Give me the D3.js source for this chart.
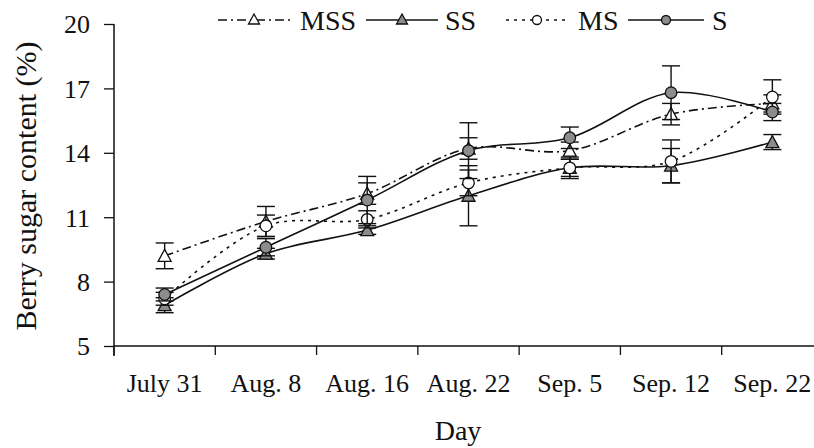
<!DOCTYPE html>
<html><head><meta charset="utf-8">
<script src="https://cdn.jsdelivr.net/npm/d3@7"></script>
<style>body{margin:0;background:#fff}svg{display:block}</style>
</head><body><svg id="c" width="814" height="448"></svg>
<script>
const categories = ["July 31","Aug. 8","Aug. 16","Aug. 22","Sep. 5","Sep. 12","Sep. 22"];
const yTicks = [5, 8, 11, 14, 17, 20];
const seriesNames = ["MSS","SS","MS","S"];
const mssValues = [9.2, 10.8, 12.1, 14.2, 14.1, 15.8, 16.3];
const mssErr    = [0.6, 0.7, 0.5, 0.5, 0.4, 0.5, 0.4];
const ssValues  = [6.9, 9.3, 10.4, 12.0, 13.3, 13.4, 14.5];
const ssErr     = [0.35, 0.25, 0.2, 1.4, 0.4, 0.8, 0.35];
const msValues  = [7.2, 10.6, 10.9, 12.6, 13.3, 13.6, 16.6];
const msErr     = [0.3, 0.5, 0.4, 0.6, 0.5, 1.0, 0.8];
const sValues   = [7.4, 9.6, 11.8, 14.1, 14.7, 16.8, 15.9];
const sErr      = [0.3, 0.4, 1.1, 1.3, 0.5, 1.25, 0.4];

const FONT = "Liberation Serif";
const series = [
  {name:seriesNames[0], values:mssValues, err:mssErr, dash:"9,4,2,4", marker:"tri", fill:"#fff"},
  {name:seriesNames[1], values:ssValues,  err:ssErr,  dash:null,      marker:"tri", fill:"#8c8c8c"},
  {name:seriesNames[2], values:msValues,  err:msErr,  dash:"3,5",     marker:"circ", fill:"#fff"},
  {name:seriesNames[3], values:sValues,   err:sErr,   dash:null,      marker:"circ", fill:"#8c8c8c"}
];

const svg = d3.select("#c");
const x = d3.scaleBand().domain(categories).range([114, 823]).padding(0);
const y = d3.scaleLinear().domain([5, 20]).range([346, 24]);

// axes
const yAxis = svg.append("g").attr("transform","translate(114,0)")
  .call(d3.axisLeft(y).tickValues(yTicks).tickSize(10).tickPadding(14).tickFormat(d3.format("d")));
yAxis.attr("font-family", FONT);
yAxis.select(".domain").attr("d","M0,24V356").attr("stroke","#111").attr("stroke-width",1.5);
yAxis.selectAll(".tick line").attr("stroke","#111").attr("stroke-width",1.3);
yAxis.selectAll("text").attr("font-size",26).attr("font-family",FONT).attr("fill","#111").attr("dy","0.34em");

const xAxis = svg.append("g").attr("transform","translate(0,346)")
  .call(d3.axisBottom(x).tickSize(0).tickPadding(0));
xAxis.attr("font-family", FONT);
xAxis.select(".domain").attr("d","M114,0H814").attr("stroke","#111").attr("stroke-width",1.5);
xAxis.selectAll("text").attr("font-size",26).attr("font-family",FONT).attr("fill","#111").attr("y",46).attr("dy",0);
// boundary ticks between categories
const bounds = categories.map(c => x(c)).concat([x(categories[6]) + x.bandwidth()]).filter(v => v < 814);
xAxis.selectAll(".btick").data(bounds).enter().append("line").attr("class","btick")
  .attr("x1",d=>d).attr("x2",d=>d).attr("y1",0).attr("y2",9).attr("stroke","#111").attr("stroke-width",1.3);

svg.append("text").attr("transform","translate(36,186) rotate(-90)").attr("text-anchor","middle")
  .attr("font-family",FONT).attr("font-size",30).attr("fill","#111").text("Berry sugar content (%)");
svg.append("text").attr("x",458).attr("y",440).attr("text-anchor","middle").attr("font-family",FONT)
  .attr("font-size",28).attr("fill","#111").text("Day");

const cx = c => x(c) + x.bandwidth()/2;
const line = d3.line().x((d,i)=>cx(categories[i])).y(d=>y(d)).curve(d3.curveCatmullRom.alpha(0.5));

function marker(g, type, fill, px, py){
  if (type === "tri") {
    g.append("path").attr("d", `M${px},${py-6.5}L${px+6.5},${py+5.5}L${px-6.5},${py+5.5}Z`)
      .attr("fill", fill).attr("stroke","#111").attr("stroke-width",1.3);
  } else {
    g.append("circle").attr("cx",px).attr("cy",py).attr("r",5.8)
      .attr("fill", fill).attr("stroke","#111").attr("stroke-width",1.3);
  }
}

series.forEach(s => {
  const g = svg.append("g");
  g.append("path").datum(s.values).attr("d", line).attr("fill","none").attr("stroke","#111")
    .attr("stroke-width",1.6).attr("stroke-dasharray", s.dash);
  s.values.forEach((v,i) => {
    const px = cx(categories[i]);
    const eb = g.append("g").attr("stroke","#111").attr("stroke-width",1.4);
    eb.append("line").attr("x1",px).attr("x2",px).attr("y1",y(v+s.err[i])).attr("y2",y(v-s.err[i]));
    [v+s.err[i], v-s.err[i]].forEach(e => eb.append("line").attr("x1",px-9).attr("x2",px+9).attr("y1",y(e)).attr("y2",y(e)));
  });
  s.values.forEach((v,i) => marker(g, s.marker, s.fill, cx(categories[i]), y(v)));
});

// legend
const legendItems = [
  {x1:218, x2:290, tx:300},
  {x1:366, x2:438, tx:445},
  {x1:506, x2:568, tx:578},
  {x1:628, x2:704, tx:712}
];
series.forEach((s,i) => {
  const L = legendItems[i];
  const g = svg.append("g");
  g.append("line").attr("x1",L.x1).attr("x2",L.x2).attr("y1",20).attr("y2",20).attr("stroke","#111")
    .attr("stroke-width",1.6).attr("stroke-dasharray", s.dash);
  const mx = (L.x1+L.x2)/2;
  if (s.marker === "tri") {
    g.append("path").attr("d", `M${mx},${14}L${mx+5.5},${24}L${mx-5.5},${24}Z`).attr("fill",s.fill).attr("stroke","#111").attr("stroke-width",1.3);
  } else {
    g.append("circle").attr("cx",mx).attr("cy",20).attr("r",4.5).attr("fill",s.fill).attr("stroke","#111").attr("stroke-width",1.3);
  }
  g.append("text").attr("x",L.tx).attr("y",30).attr("font-family",FONT).attr("font-size",28).attr("fill","#111").text(s.name);
});
</script></body></html>
